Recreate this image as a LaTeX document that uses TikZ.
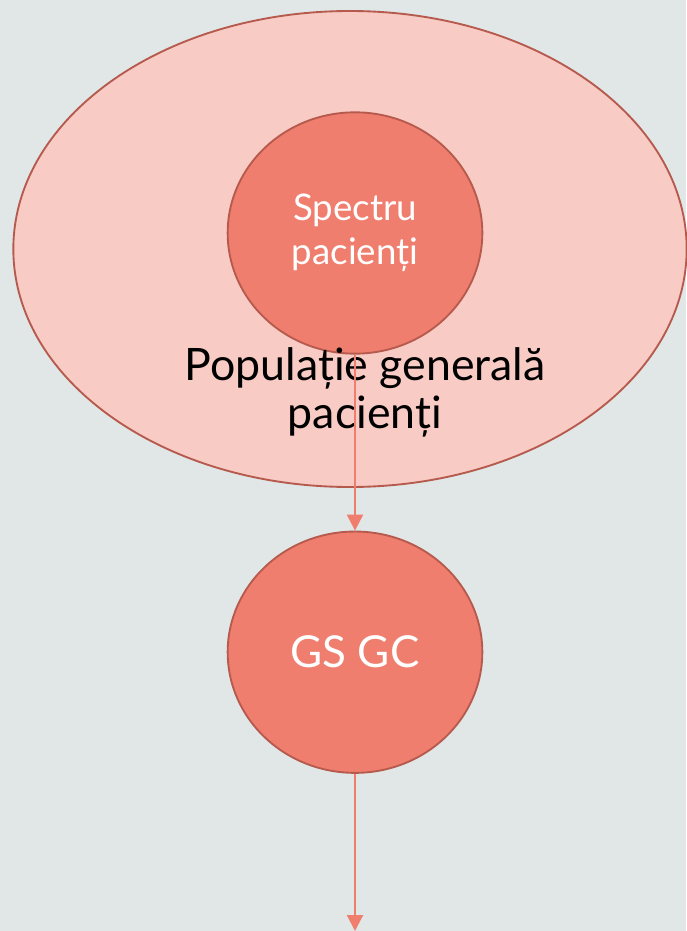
\documentclass[tikz,border=0pt]{standalone}
\usepackage{fontspec}
\setmainfont{Lato}
\usepackage{xcolor}
\usepackage{tikz}
\usetikzlibrary{arrows.meta, shapes.geometric, positioning}
\definecolor{bgcol}{HTML}{E1E7E7}
\definecolor{popfill}{HTML}{F8CBC4}
\definecolor{rimcol}{HTML}{B65A4E}
\definecolor{salmon}{HTML}{F07E6E}
\tikzset{
  pop/.style={ellipse, draw=rimcol, fill=popfill, line width=1.4pt,
              minimum width=505pt, minimum height=357pt, inner sep=0pt},
  grp/.style={ellipse, draw=rimcol, fill=salmon, line width=1.4pt,
              minimum width=191pt, minimum height=181pt, inner sep=0pt,
              text=white, align=center},
  lbl/.style={align=center, font=\fontsize{33.5pt}{36pt}\selectfont},
  flow/.style={-{Triangle[length=12pt, width=12pt]}, draw=salmon, line width=1.6pt}
}

\begin{document}
\begin{tikzpicture}[x=0.75pt, y=-0.75pt]
  \fill[bgcol] (0,0) rectangle (686,931);
  \useasboundingbox (0,0) rectangle (686,931);
  \node[pop] (popul) at (350,249) {};
  \node[grp, font=\fontsize{27.5pt}{33pt}\selectfont] (spec) at (355,233) {Spectru\\pacienți};
  \node[lbl] (poplbl) at (365,392) {Populație generală\\pacienți};
  \node[grp, font=\fontsize{33pt}{38pt}\selectfont, below=132pt of spec] (gsgc) {GS GC};
  \coordinate (jos) at (355,931);
  \draw[flow] (spec) -- (gsgc);
  \draw[flow] (gsgc) -- (jos);
\end{tikzpicture}
\end{document}
